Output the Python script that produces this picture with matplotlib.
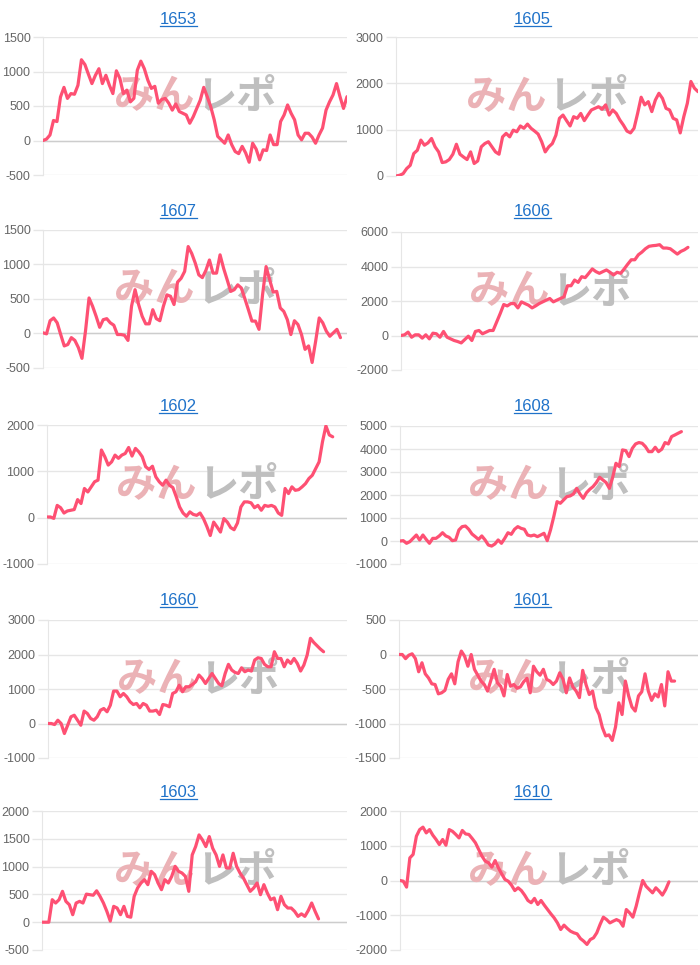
import matplotlib
matplotlib.use("Agg")
import matplotlib.pyplot as plt
from matplotlib.lines import Line2D
import numpy as np

plt.rcParams["axes.unicode_minus"] = False

W, H = 700, 965

names = ["1653", "1605", "1607", "1606", "1602", "1608", "1660", "1601", "1603", "1610"]

d1653 = [0, 20, 80, 290, 275, 630, 770, 610, 680, 670, 800, 1170, 1100, 960, 825, 945, 1040, 825, 945, 800,
         680, 1010, 900, 680, 730, 560, 610, 1020, 1150, 1040, 875, 755, 785, 540, 595, 610, 540, 440, 530, 420,
         395, 370, 250, 345, 465, 585, 770, 635, 490, 300, 60, 10, -40, 80, -60, -160, -190, -85, -180, -315,
         -40, -125, -280, -135, -145, 80, -60, -60, 275, 370, 515, 395, 300, 80, 10, 105, 105, 50, -40, 80,
         180, 440, 560, 660, 825, 635, 465, 635]
d1605 = [0, 15, 50, 160, 230, 485, 555, 775, 665, 715, 810, 630, 520, 290, 305, 355, 470, 685, 470, 410,
         355, 520, 270, 325, 630, 700, 740, 630, 520, 470, 845, 920, 845, 990, 955, 1080, 1030, 1120, 1030, 970,
         905, 740, 520, 630, 700, 880, 1245, 1315, 1195, 1080, 1280, 1245, 1350, 1195, 1315, 1425, 1460, 1495,
         1440, 1535, 1315, 1425, 1350, 1210, 1100, 970, 930, 1030, 1350, 1700, 1535, 1605, 1390, 1640, 1785,
         1675, 1460, 1425, 1245, 1210, 930, 1280, 1570, 2040, 1895, 1820]
d1607 = [10, -5, 185, 225, 155, -15, -180, -160, -60, -100, -205, -360, 35, 515, 395, 250, 90, 200, 215, 155,
         120, -15, -15, -25, -100, 395, 635, 420, 250, 140, 140, 345, 215, 185, 395, 560, 540, 420, 745, 800,
         900, 1260, 1160, 1020, 850, 810, 915, 1065, 875, 875, 1140, 945, 780, 610, 635, 705, 660, 505, 345, 180,
         180, 60, 560, 970, 780, 600, 610, 370, 320, 200, -15, 185, 130, -15, -230, -180, -420, -110, 225, 155,
         35, -40, 10, 60, -60]
d1606 = [0, 40, 195, -100, 40, 40, -155, 40, -195, 135, 100, -100, 235, -100, -195, -290, -350, -430, -235, -40,
         -290, 235, 290, 100, 195, 290, 290, 780, 1270, 1795, 1715, 1850, 1850, 1600, 1950, 1850, 1755, 1600,
         1715, 1850, 1950, 2050, 2145, 1950, 2050, 2145, 2240, 2885, 2885, 3215, 3080, 3410, 3355, 3605, 3860,
         3705, 3605, 3705, 3800, 3665, 3510, 3665, 3605, 3860, 4135, 4390, 4390, 4680, 4835, 5030, 5170, 5205,
         5225, 5265, 5070, 5070, 5030, 4875, 4720, 4875, 4970, 5110]
d1602 = [15, 15, -15, 265, 215, 100, 145, 160, 175, 390, 305, 630, 555, 665, 775, 810, 1460, 1315, 1135, 1205,
         1350, 1280, 1350, 1385, 1515, 1330, 1495, 1420, 1315, 1100, 1040, 1110, 880, 775, 700, 810, 700, 650,
         450, 230, 100, 30, 125, 70, 50, 100, -20, -190, -385, -95, -200, -310, -20, -95, -215, -260, -115, 230,
         340, 340, 320, 215, 265, 160, 265, 245, 265, 230, 100, 50, 630, 520, 665, 590, 605, 665, 735, 845, 915,
         1060, 1205, 1640, 1980, 1785, 1745]
d1608 = [0, 15, -100, -30, 115, 260, 45, 260, 70, -100, 115, 115, 220, 360, 220, 160, 15, 45, 480, 625, 650,
         510, 305, 190, 70, 220, 45, -175, -220, -130, 45, -100, 115, 360, 290, 510, 625, 550, 510, 260, 220, 260,
         190, 260, 335, 15, 480, 1060, 1710, 1640, 1785, 1930, 1960, 2045, 2290, 2045, 1855, 2100, 2250, 2365,
         2540, 2770, 2655, 2540, 2290, 2770, 3380, 3235, 3960, 3930, 3670, 4030, 4220, 4280, 4250, 4105, 3885,
         3885, 4075, 3885, 3990, 4280, 4220, 4540, 4610, 4685, 4755]
d1660 = [0, 0, -30, 95, 0, -290, -50, 195, 240, 95, -50, 360, 290, 145, 95, 195, 385, 435, 340, 530, 940, 940,
         775, 870, 775, 630, 550, 580, 455, 580, 530, 360, 360, 385, 260, 550, 530, 485, 870, 920, 1110, 920,
         1065, 1065, 1130, 1210, 1405, 1305, 1160, 1305, 1450, 1305, 1160, 1095, 1450, 1715, 1550, 1480, 1450,
         1615, 1500, 1550, 1520, 1840, 1905, 1885, 1715, 1645, 1645, 2080, 1885, 1885, 1645, 1840, 1740, 1885,
         1740, 1520, 1695, 1985, 2470, 2350, 2255, 2160, 2080]
d1601 = [0, 0, -60, -10, 10, -60, -250, -120, -280, -340, -425, -435, -570, -555, -520, -360, -280, -425, -105,
         50, -25, -170, 0, -215, -300, -385, -435, -530, -375, -215, -410, -460, -600, -290, -460, -435, -490,
         -470, -395, -345, -555, -170, -250, -300, -215, -360, -385, -435, -385, -265, -360, -555, -340, -470,
         -530, -625, -230, -435, -580, -530, -770, -870, -1060, -1180, -1165, -1245, -1050, -700, -870, -385,
         -600, -760, -820, -600, -540, -280, -530, -665, -570, -615, -435, -745, -250, -385, -385]
d1603 = [0, 0, 0, 405, 345, 405, 555, 375, 315, 135, 345, 375, 345, 505, 495, 485, 565, 465, 345, 195, 20, 285,
         255, 135, 285, 105, 90, 465, 615, 705, 765, 675, 915, 855, 705, 585, 765, 705, 825, 1005, 915, 885, 825,
         555, 1210, 1360, 1570, 1480, 1360, 1540, 1330, 1210, 1005, 1210, 975, 975, 1240, 1005, 885, 795, 675,
         555, 615, 705, 495, 675, 525, 405, 435, 225, 465, 315, 255, 255, 195, 105, 150, 105, 210, 345, 195, 60]
d1610 = [0, -20, -190, 650, 750, 1275, 1465, 1535, 1370, 1465, 1305, 1180, 1035, 1180, 1015, 1465, 1415, 1325,
         1225, 1440, 1340, 1325, 1210, 1085, 890, 700, 555, 510, 385, 575, 365, 190, 30, -20, -135, -290, -210,
         -290, -420, -575, -640, -515, -690, -575, -710, -835, -960, -1075, -1220, -1410, -1285, -1380, -1460,
         -1505, -1535, -1670, -1745, -1840, -1700, -1650, -1505, -1265, -1055, -1125, -1220, -1170, -1125, -1170,
         -1315, -835, -930, -1055, -740, -355, 0, -165, -260, -355, -210, -305, -420, -260, -40]

series = [d1653, d1605, d1607, d1606, d1602, d1608, d1660, d1601, d1603, d1610]

# y axis (min, max, step) per chart
y_axes = [(-500, 1500, 500), (0, 3000, 1000), (-500, 1500, 500), (-2000, 6000, 2000), (-1000, 2000, 1000),
          (-1000, 5000, 1000), (-1000, 3000, 1000), (-1500, 500, 500), (-500, 2000, 500), (-2000, 2000, 1000)]

# how much of the x axis is left empty after the last point
x_pad = [1.0, 1.0, 1.022, 1.035, 1.050, 1.059, 1.085, 1.085, 1.103, 1.108]

# plot boxes in pixels: left, top, right, bottom
boxes = [(43, 37, 347, 175), (396, 37, 698, 176),
         (43, 230, 347, 368), (401, 232, 698, 370),
         (47, 425, 347, 564), (400, 426, 698, 564),
         (48, 620, 347, 758), (399, 620, 698, 758),
         (42, 811, 347, 950), (400, 811, 698, 950)]

title_x = [178, 532]
title_base = [24, 216, 411, 605, 797]

LINE = "#fe5073"
GRID = "#e6e6e6"
TITLE = "#1f72c9"

fig = plt.figure(figsize=(W / 100, H / 100), dpi=100)
fig.patch.set_facecolor("white")

titles = []
for i, (name, vals) in enumerate(zip(names, series)):
    l, t, r, b = boxes[i]
    ax = fig.add_axes([l / W, 1 - b / H, (r - l) / W, (b - t) / H])
    lo, hi, step = y_axes[i]
    x = np.arange(len(vals))
    ax.plot(x, vals, color=LINE, lw=2.3, zorder=5, solid_capstyle="round")
    ax.set_xlim(0, (len(vals) - 1) * x_pad[i])
    ax.set_ylim(lo, hi)
    ax.set_yticks(np.arange(lo, hi + 1, step))
    ax.set_xticks([])
    ax.yaxis.grid(True, color=GRID, lw=1)
    if lo < 0 < hi:
        ax.axhline(0, color="#cdcdcd", lw=1, zorder=1)
    ax.set_axisbelow(True)
    for s in ["top", "right", "bottom"]:
        ax.spines[s].set_visible(False)
    ax.spines["left"].set_color(GRID)
    ax.tick_params(axis="y", length=7, width=1, color=GRID, pad=2,
                   labelsize=9, labelcolor="#666666")
    for lab in ax.get_yticklabels():
        lab.set_fontfamily("Liberation Sans")

    # watermark logo
    ax.text(0.5, 0.565, "みん", transform=ax.transAxes, ha="right", va="center",
            fontsize=29, fontweight="bold", color="#ebb2b6", family="Noto Sans CJK JP", zorder=2)
    ax.text(0.505, 0.565, "レポ", transform=ax.transAxes, ha="left", va="center",
            fontsize=29, fontweight="bold", color="#bfbfbf", family="Noto Sans CJK JP", zorder=2)

    tx = title_x[i % 2]
    ty = title_base[i // 2]
    txt = fig.text(tx / W, 1 - ty / H, name, ha="center", va="baseline", fontsize=12,
                   color=TITLE, family="Liberation Sans")
    titles.append((txt, ty))

# underline the titles like links
fig.canvas.draw()
renderer = fig.canvas.get_renderer()
for txt, ty in titles:
    bb = txt.get_window_extent(renderer)
    yy = 1 - (ty + 2) / H
    fig.add_artist(Line2D([bb.x0 / W, bb.x1 / W], [yy, yy], color=TITLE, lw=0.9))

fig.savefig("out.png", dpi=100, facecolor="white")
